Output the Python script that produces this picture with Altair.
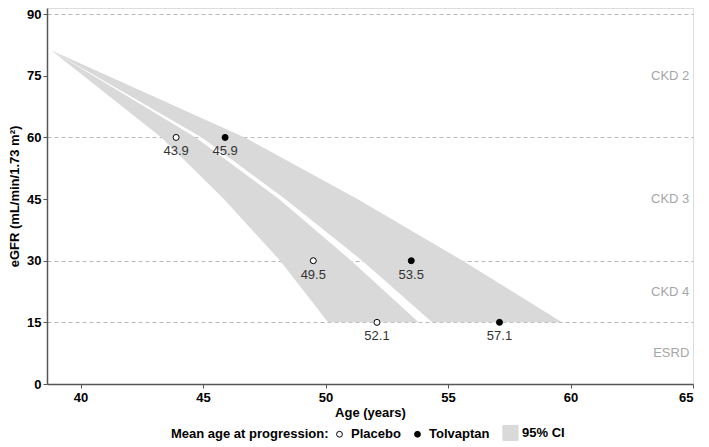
import altair as alt
import pandas as pd

# ---- data ----
band_egfr = [81.2, 60, 45, 30, 15]
placebo_lo = [38.8, 43.3, 45.85, 48.15, 50.1]
placebo_hi = [38.8, 44.7, 48.1, 51.05, 53.8]
tolv_lo = [38.8, 44.95, 48.35, 51.5, 54.35]
tolv_hi = [38.8, 46.7, 51.3, 55.6, 59.65]

placebo_age = [43.9, 49.5, 52.1]
tolv_age = [45.9, 53.5, 57.1]
threshold_egfr = [60, 30, 15]

grid_values = [15, 30, 60, 90]
stage_labels = ["CKD 2", "CKD 3", "CKD 4", "ESRD"]
stage_mid = [75, 45, 22.5, 7.5]
stage_x = 64.85

legend_domain = ["Placebo", "Tolvaptan", "95% CI"]
legend_fill = ["white", "black", "#d9d9d9"]
legend_stroke = ["black", "black", "#d9d9d9"]
legend_shape = ["circle", "circle", "square"]

FONT = "Liberation Sans"
LEG_TITLE = "Mean age at progression:"

bands = pd.DataFrame(
    [{"arm": "Placebo", "egfr": e, "lo": lo, "hi": hi, "leg": "95% CI"}
     for e, lo, hi in zip(band_egfr, placebo_lo, placebo_hi)]
    + [{"arm": "Tolvaptan", "egfr": e, "lo": lo, "hi": hi, "leg": "95% CI"}
       for e, lo, hi in zip(band_egfr, tolv_lo, tolv_hi)]
)
points = pd.DataFrame(
    [{"leg": "Placebo", "age": a, "egfr": e, "lab": f"{a:.1f}"} for a, e in zip(placebo_age, threshold_egfr)]
    + [{"leg": "Tolvaptan", "age": a, "egfr": e, "lab": f"{a:.1f}"} for a, e in zip(tolv_age, threshold_egfr)]
)
stages = pd.DataFrame({"lab": stage_labels, "y": stage_mid, "x": [stage_x] * 4})

xscale = alt.Scale(domain=[38.63, 65], nice=False, zero=False)
yscale = alt.Scale(domain=[0, 91.5], nice=False)

xaxis = alt.Axis(values=[40, 45, 50, 55, 60, 65], title="Age (years)", grid=False,
                 labelFontWeight="bold", labelFontSize=13, titleFontWeight="bold",
                 titleFontSize=13, domainColor="#555555", domainWidth=1.5,
                 tickColor="#555555", tickSize=4, labelColor="black", titleColor="black",
                 titlePadding=2, labelPadding=3)
grid_test = "indexof([" + ",".join(str(v) for v in grid_values) + "], datum.value) < 0"
yaxis = alt.Axis(values=[0, 15, 30, 45, 60, 75, 90], title="eGFR (mL/min/1.73 m²)",
                 grid=True, gridColor="#b8b8b8", gridDash=[4, 3], gridWidth=1,
                 gridOpacity={"condition": {"test": grid_test, "value": 0}, "value": 1},
                 labelFontWeight="bold", labelFontSize=13, titleFontWeight="bold",
                 titleFontSize=13, domainColor="#555555", domainWidth=1.5,
                 tickColor="#555555", tickSize=4, labelColor="black", titleColor="black",
                 titlePadding=5, labelPadding=2)

legend_def = alt.Legend(
    title=LEG_TITLE, orient="none", direction="horizontal", titleOrient="left",
    legendX=124, legendY=418,
    symbolSize={"expr": "datum.value === '95% CI' ? 230 : 34"},
)

fill_enc = alt.Fill("leg:N", scale=alt.Scale(domain=legend_domain, range=legend_fill), legend=legend_def)

band_layer = alt.Chart(bands).mark_area(orient="horizontal", opacity=1, fillOpacity=1,
                                         color="#d9d9d9").encode(
    y=alt.Y("egfr:Q", scale=yscale, axis=yaxis),
    x=alt.X("lo:Q", scale=xscale, axis=xaxis, stack=None),
    x2="hi:Q",
    detail="arm:N",
    fill=fill_enc,
)

point_layer = alt.Chart(points).mark_point(filled=True, strokeWidth=1, opacity=1, size=36).encode(
    x=alt.X("age:Q", scale=xscale, axis=xaxis),
    y=alt.Y("egfr:Q", scale=yscale, axis=yaxis),
    fill=fill_enc,
    stroke=alt.Stroke("leg:N", scale=alt.Scale(domain=legend_domain, range=legend_stroke), legend=legend_def),
    shape=alt.Shape("leg:N", scale=alt.Scale(domain=legend_domain, range=legend_shape), legend=legend_def),
)

label_layer = alt.Chart(points).mark_text(dy=14, fontSize=13, color="#333333", font=FONT).encode(
    x=alt.X("age:Q", scale=xscale, axis=xaxis),
    y=alt.Y("egfr:Q", scale=yscale, axis=yaxis),
    text="lab:N",
)

stage_layer = alt.Chart(stages).mark_text(align="right", fontSize=13, color="#a6a6a6", font=FONT).encode(
    x=alt.X("x:Q", scale=xscale, axis=xaxis),
    y=alt.Y("y:Q", scale=yscale, axis=yaxis),
    text="lab:N",
)

chart = alt.layer(band_layer, point_layer, label_layer, stage_layer).properties(
    width=646, height=376,
    padding={"left": 0, "right": 0, "top": 0, "bottom": 0},
).configure_view(stroke=None).configure(font=FONT).configure_legend(
    titleFontSize=13, titleFontWeight="bold", titleColor="black",
    labelFontSize=13, labelFontWeight="bold", labelColor="black",
    columnPadding=10, symbolStrokeWidth=1, titlePadding=4, labelOffset=5
)

chart.save("out.html", embed_options={"renderer": "svg", "actions": False})
